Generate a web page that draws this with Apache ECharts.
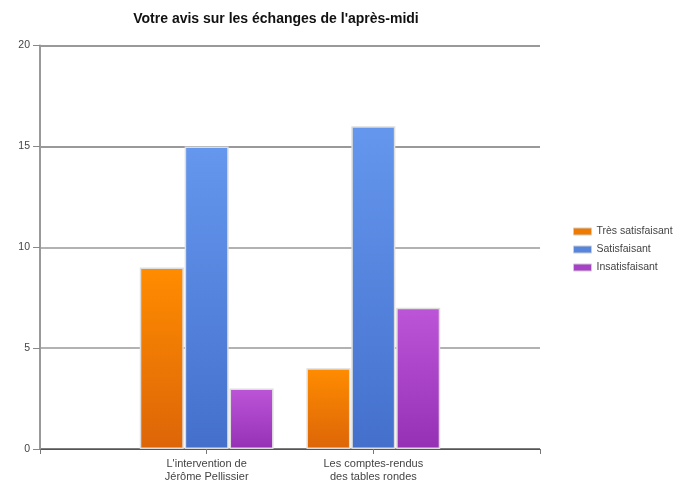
<!DOCTYPE html>
<html><head><meta charset="utf-8">
<script src="https://cdn.jsdelivr.net/npm/echarts@6/dist/echarts.min.js"></script>
<style>html,body{margin:0;padding:0;background:#fff}#c{width:681px;height:483px}</style>
</head><body><div id="c"></div>
<script>
var categories = ['', "L'intervention de\nJérôme Pellissier", "Les comptes-rendus\ndes tables rondes", ''];
var seriesNames = ['Très satisfaisant', 'Satisfaisant', 'Insatisfaisant'];
var tresSatisfaisant = [null, 9, 4, null];
var satisfaisant = [null, 15, 16, null];
var insatisfaisant = [null, 3, 7, null];
var yTicks = [0, 5, 10, 15, 20];

function grad(top, bottom) {
  return new echarts.graphic.LinearGradient(0, 0, 0, 1, [{offset: 0, color: top}, {offset: 1, color: bottom}]);
}
var colors = [grad('#FF8C00', '#DD6508'), grad('#6597EE', '#4470CC'), grad('#BD55D8', '#9530B5')];
var legendColors = ['#F07A00', '#5585DD', '#A840C8'];
var data = [tresSatisfaisant, satisfaisant, insatisfaisant];

var chart = echarts.init(document.getElementById('c'));
chart.setOption({
  animation: false,
  textStyle: {fontFamily: 'Liberation Sans, Arial, sans-serif'},
  title: {
    text: "Votre avis sur les échanges de l'après-midi",
    left: 271, top: 7, textAlign: 'center',
    textStyle: {fontSize: 14, fontWeight: 'bold', color: '#111'}
  },
  legend: {
    orient: 'vertical', left: 568, top: 221, itemWidth: 18, itemHeight: 7, itemGap: 7, icon: 'rect',
    textStyle: {fontSize: 10.5, color: '#444'},
    data: seriesNames.map(function (n, i) { return {name: n, itemStyle: {color: legendColors[i], borderColor: '#ccc', borderWidth: 1}}; })
  },
  grid: {left: 40, right: 141, top: 45.5, bottom: 32, containLabel: false},
  xAxis: {
    type: 'category', data: categories, boundaryGap: false,
    axisLine: {lineStyle: {color: '#555', width: 1}},
    axisTick: {show: true, length: 5, lineStyle: {color: '#777'}},
    axisLabel: {fontSize: 11, color: '#444', lineHeight: 12.5, margin: 9, interval: 0}
  },
  yAxis: {
    type: 'value', min: 0, max: 20, interval: 5,
    axisLine: {show: true, lineStyle: {color: '#999', width: 2}},
    axisTick: {show: true, length: 7, lineStyle: {color: '#888'}},
    axisLabel: {fontSize: 10.5, color: '#444', margin: 10, formatter: function (v) { return yTicks.indexOf(v) >= 0 ? String(v) : ''; }},
    splitLine: {lineStyle: {color: ['#555', '#999', '#999', '#777', '#777'], width: 1.5}}
  },
  series: data.map(function (d, i) {
    return {
      name: seriesNames[i], type: 'bar', data: d, barWidth: 44, barGap: '2%',
      itemStyle: {color: colors[i], borderColor: '#ddd', borderWidth: 1.5}
    };
  })
});
</script></body></html>
